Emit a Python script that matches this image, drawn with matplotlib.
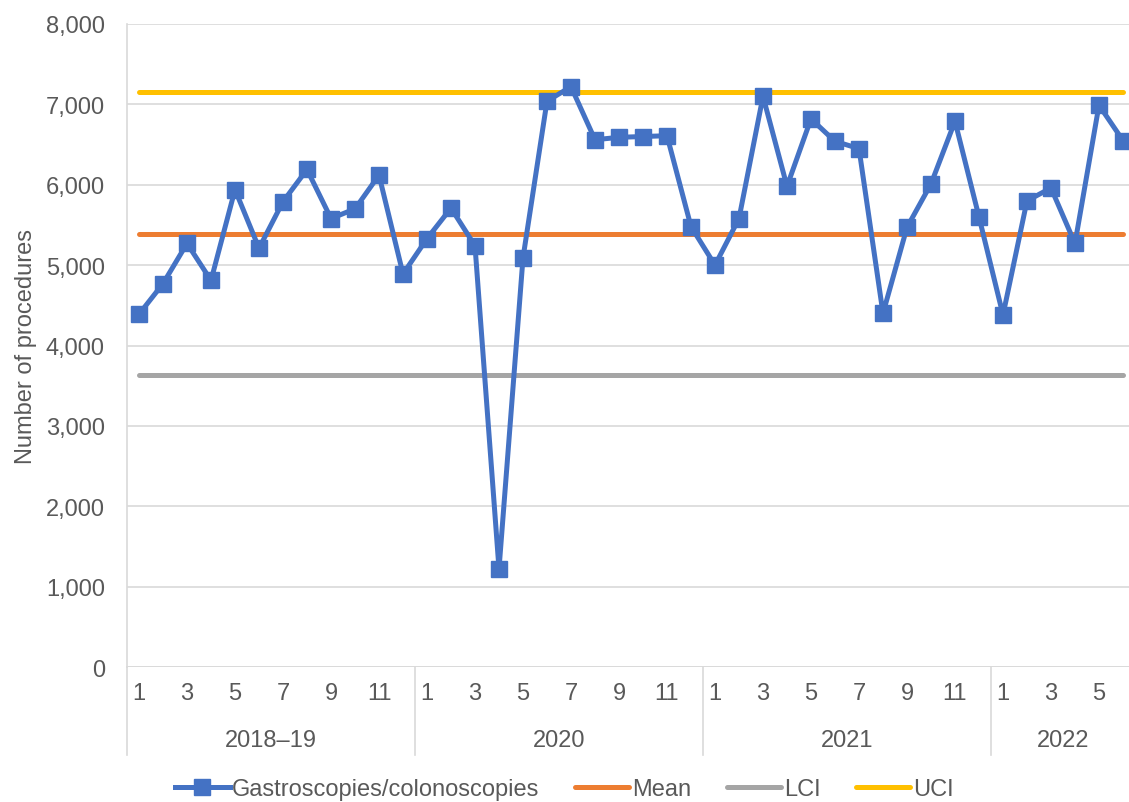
import matplotlib.pyplot as plt
from matplotlib.ticker import FuncFormatter

plt.rcParams['font.family'] = ['Liberation Sans', 'DejaVu Sans']

# Monthly procedures, grouped by period
years = ['2018–19', '2020', '2021', '2022']
months_per_year = [12, 12, 12, 6]
procedures = [4390, 4770, 5270, 4810, 5940, 5210, 5790, 6190, 5580, 5700, 6120, 4890,
              5330, 5710, 5240, 1220, 5090, 7040, 7220, 6560, 6590, 6600, 6610, 5480,
              5000, 5580, 7100, 5980, 6820, 6540, 6450, 4400, 5470, 6010, 6790, 5600,
              4380, 5800, 5960, 5270, 6990, 6550]
mean_val = 5385
lci_val = 3632
uci_val = 7152

grey = '#595959'
fs = 17
n = len(procedures)
x = list(range(n))

fig = plt.figure(figsize=(11.29, 8.03), dpi=100)
ax = fig.add_axes([0.1125, 0.168, 0.8928, 0.8009])

ax.plot(x, [uci_val] * n, color='#FFC000', lw=3.6, solid_capstyle='round', label='UCI', zorder=2)
ax.plot(x, [mean_val] * n, color='#ED7D31', lw=3.6, solid_capstyle='round', label='Mean', zorder=2)
ax.plot(x, [lci_val] * n, color='#A5A5A5', lw=3.6, solid_capstyle='round', label='LCI', zorder=2)
ax.plot(x, procedures, color='#4472C4', lw=3.6, marker='s', markersize=11,
        label='Gastroscopies/colonoscopies', zorder=3)

ax.set_xlim(-0.5, n - 0.5)
ax.set_ylim(0, 8000)
ax.set_yticks(range(0, 8001, 1000))
ax.yaxis.set_major_formatter(FuncFormatter(lambda v, p: f'{int(v):,}'))
ax.grid(axis='y', color='#d9d9d9', lw=1.2)
ax.set_axisbelow(True)
for s in ['top', 'right', 'bottom']:
    ax.spines[s].set_visible(False)
ax.spines['left'].set_color('#d9d9d9')
ax.spines['left'].set_linewidth(1.2)
ax.tick_params(axis='y', length=0, labelsize=fs, labelcolor=grey, pad=16)
ax.set_ylabel('Number of procedures', fontsize=fs, color=grey, labelpad=6)

# month labels and year groups
ax.set_xticks([])
ax.axhline(0, color='#d9d9d9', lw=1.2)
start = 0
trans = ax.get_xaxis_transform()
for yr, m in zip(years, months_per_year):
    for k in range(0, m, 2):
        ax.text(start + k, -0.04, str(k + 1), transform=trans, ha='center', va='center',
                fontsize=fs, color=grey)
    ax.text(start + (m - 1) / 2, -0.113, yr, transform=trans, ha='center', va='center',
            fontsize=fs, color=grey)
    ax.plot([start - 0.5, start - 0.5], [0, -0.136], transform=trans, color='#d9d9d9',
            lw=1.2, clip_on=False)
    start += m

h, l = ax.get_legend_handles_labels()
order = [3, 1, 2, 0]
fig.legend([h[i] for i in order], [l[i] for i in order], loc='center',
           bbox_to_anchor=(0.5, 0.016), ncol=4, frameon=False, fontsize=fs,
           labelcolor=grey, handlelength=2.3, handletextpad=0.12, columnspacing=1.5)

fig.savefig('out.png', dpi=100)
